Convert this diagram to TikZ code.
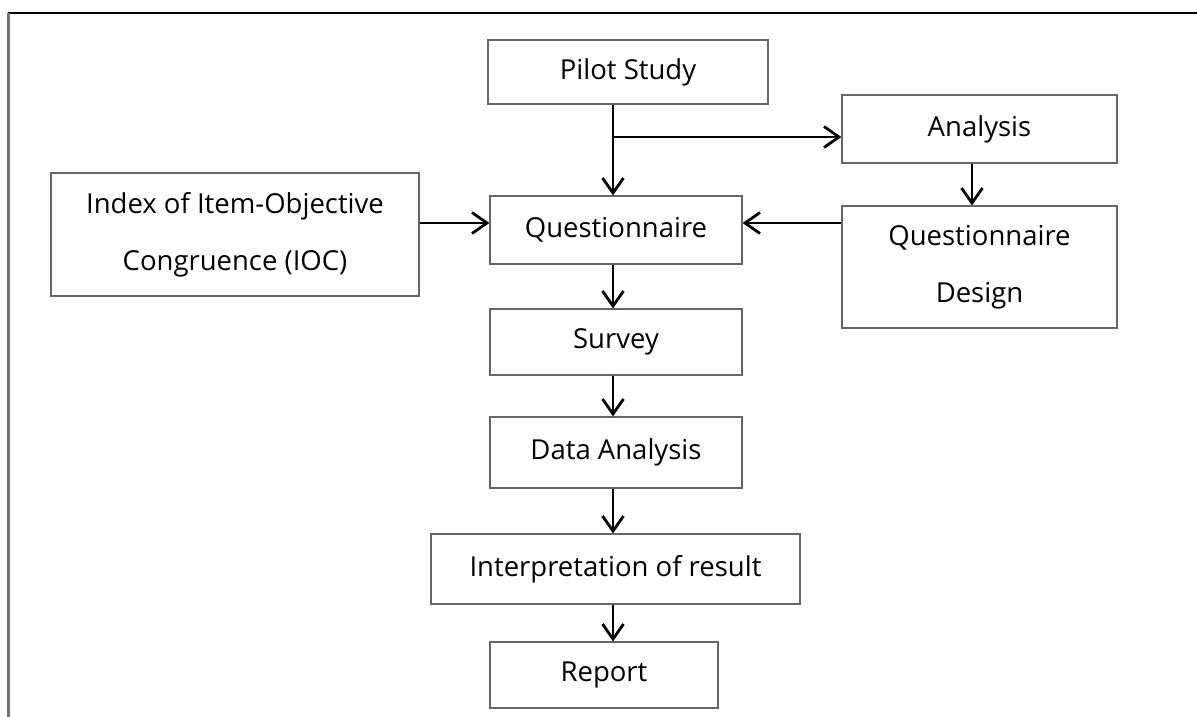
\documentclass[tikz,border=0pt]{standalone}
\usepackage{fontspec}
\setmainfont{Open Sans}
\usetikzlibrary{arrows.meta}
\begin{document}
\begin{tikzpicture}[x=1pt,y=-1pt,
  box/.style={draw=black!60, line width=1.1pt, inner sep=0pt, align=center,
    font=\fontsize{27.5}{57}\selectfont},
  arr/.style={line width=2.8pt, -{Straight Barb[length=15pt,width=21pt]}}]
\useasboundingbox (0,0) rectangle (1197,717);
\draw[line width=2pt] (7.5,13) -- (1197,13);
\draw[black!55, line width=2.2pt] (8.5,13) -- (8.5,717);

\node[box, minimum width=280pt, minimum height=64pt] (pilot) at (628,72) {Pilot Study};
\node[box, minimum width=275pt, minimum height=68pt] (ana) at (979.5,129) {Analysis};
\node[box, minimum width=252pt, minimum height=68pt] (q) at (616,230) {Questionnaire};
\node[box, minimum width=368pt, minimum height=123pt] (ioc) at (235,234.5) {Index of Item-Objective\\Congruence (IOC)};
\node[box, minimum width=275pt, minimum height=122pt] (qd) at (979.5,267) {Questionnaire\\Design};
\node[box, minimum width=252pt, minimum height=66pt] (sv) at (616,342) {Survey};
\node[box, minimum width=252pt, minimum height=71pt] (da) at (616,452.5) {Data Analysis};
\node[box, minimum width=369pt, minimum height=70pt] (ir) at (615.5,569) {Interpretation of result};
\node[box, minimum width=228pt, minimum height=66pt] (rp) at (604,675) {Report};

\coordinate (cx) at (613,0);
\coordinate (ax) at (972,0);
\coordinate (ry) at (0,223);
\coordinate (br) at (613,137);

\draw[arr] (cx |- pilot.south) -- (cx |- q.north);
\draw[arr] (br) -- (br -| ana.west);
\draw[arr] (ax |- ana.south) -- (ax |- qd.north);
\draw[arr] (ioc.east |- ry) -- (q.west |- ry);
\draw[arr] (qd.west |- ry) -- (q.east |- ry);
\draw[arr] (cx |- q.south) -- (cx |- sv.north);
\draw[arr] (cx |- sv.south) -- (cx |- da.north);
\draw[arr] (cx |- da.south) -- (cx |- ir.north);
\draw[arr] (cx |- ir.south) -- (cx |- rp.north);
\end{tikzpicture}
\end{document}
